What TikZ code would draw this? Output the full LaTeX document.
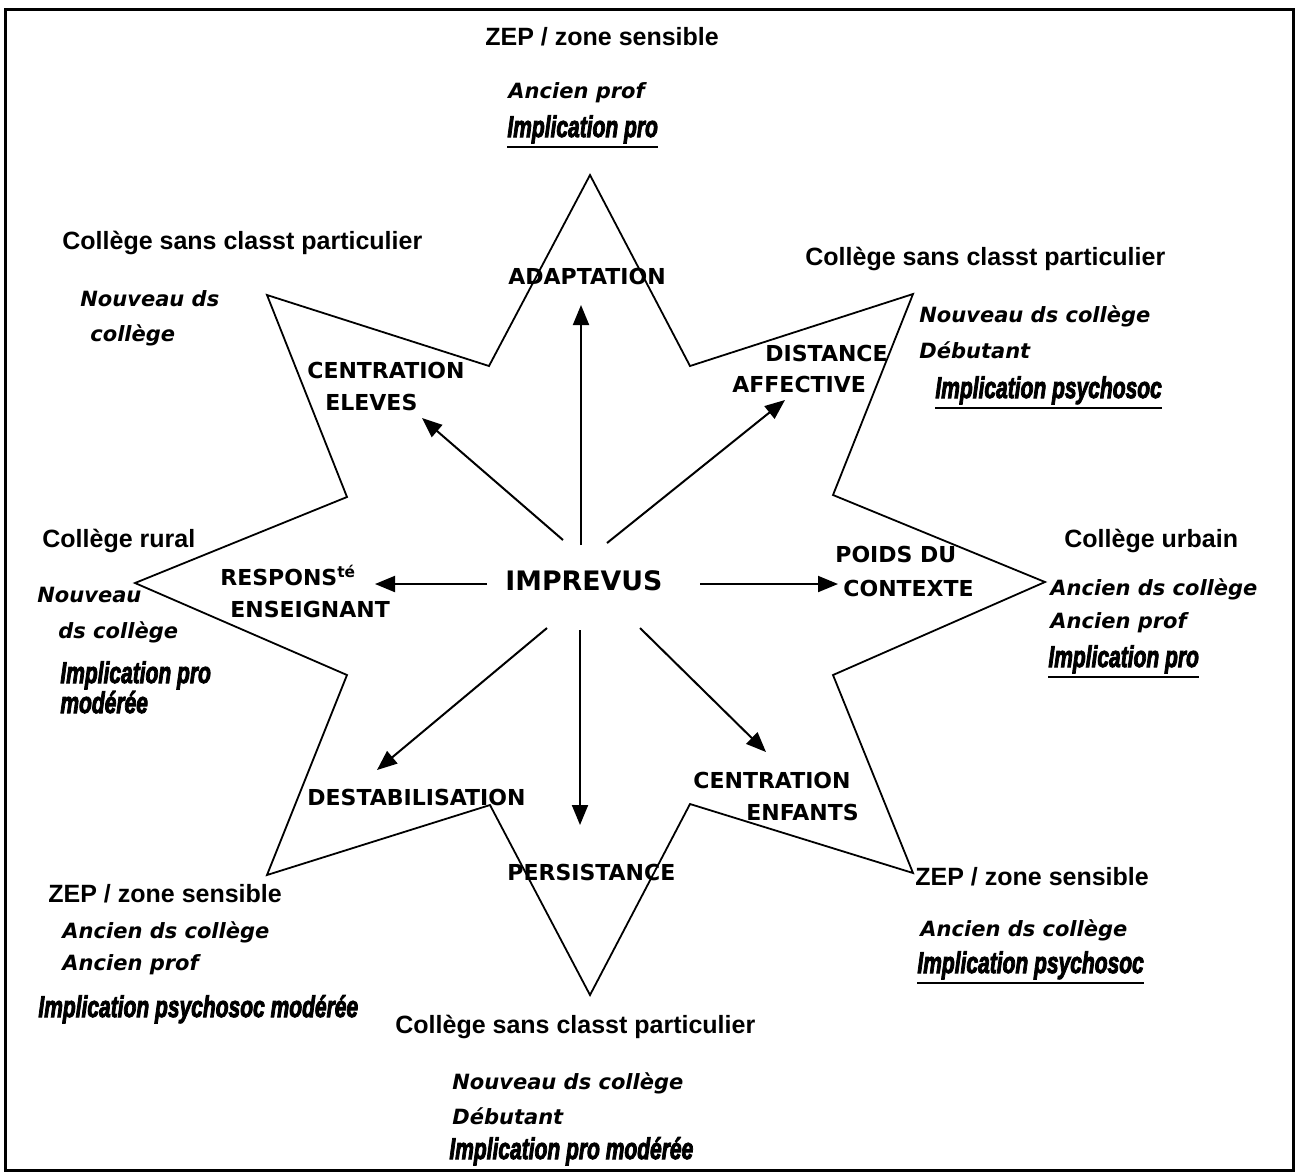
\documentclass[tikz,border=0pt]{standalone}
\usepackage{fontspec}
\setmainfont{Liberation Sans}
\newfontfamily\comicf{DejaVu Sans}
\newfontfamily\implf[FakeBold=3.5]{Liberation Sans}
\usetikzlibrary{arrows.meta}
\newcommand\impltxt[1]{\scalebox{0.7}[1]{\implf\fontsize{15}{17}\selectfont\bfseries\itshape #1}}
\newcommand\implul[1]{\scalebox{0.7}[1]{\implf\fontsize{15}{17}\selectfont\bfseries\itshape\vtop{\hbox{#1}\kern1.3pt\hrule height 1pt}}}
\tikzset{
  head/.style={anchor=base west, inner sep=0pt, font=\fontsize{12.5}{14}\selectfont\bfseries},
  itl/.style={anchor=base west, inner sep=0pt, font=\comicf\fontsize{10.5}{12}\selectfont\bfseries\itshape},
  imp/.style={anchor=base west, inner sep=0pt},
  lbl/.style={anchor=base west, inner sep=0pt, font=\comicf\fontsize{11}{13}\selectfont\bfseries},
  star/.style={line width=0.9pt, line join=miter},
  arr/.style={line width=1pt, -{Triangle[length=10pt,width=8pt]}},
  frame/.style={line width=1.5pt}
}
\begin{document}
\begin{tikzpicture}[x=0.5pt, y=-0.5pt]
\useasboundingbox (0,0) rectangle (1299,1175);
\draw[frame] (5,9) rectangle (1293,1170);

% star
\draw[star] (590,175) -- (690,366) -- (913,294) -- (833,495) -- (1045,582) -- (833,675) -- (913,873) -- (690,804) -- (590,995) -- (490,805) -- (267,875) -- (347,675) -- (135,583) -- (347,497) -- (267,295) -- (489,366) -- cycle;

% centre
\node[lbl, font=\comicf\fontsize{13.4}{15}\selectfont\bfseries] (imprevus) at (505,590) {IMPREVUS};

% labels
\node[lbl] (adapt) at (508,284) {ADAPTATION};
\node[lbl] (ce1) at (307,378) {CENTRATION};
\node[lbl] (ce2) at (325,410) {ELEVES};
\node[lbl] (da1) at (765,361) {DISTANCE};
\node[lbl] (da2) at (732,392) {AFFECTIVE};
\node[lbl] (re1) at (220,585) {RESPONS\textsuperscript{té}};
\node[lbl] (re2) at (230,617) {ENSEIGNANT};
\node[lbl] (po1) at (835,562) {POIDS DU};
\node[lbl] (po2) at (843,596) {CONTEXTE};
\node[lbl] (desta) at (307,805) {DESTABILISATION};
\node[lbl] (persi) at (507,880) {PERSISTANCE};
\node[lbl] (cn1) at (693,788) {CENTRATION};
\node[lbl] (cn2) at (746,820) {ENFANTS};

% arrows
\coordinate (uS) at (581,545); \coordinate (uE) at (581,305);
\coordinate (dS) at (580,630); \coordinate (dE) at (580,825);
\coordinate (lS) at (487,584); \coordinate (lE) at (375,584);
\coordinate (rS) at (700,584); \coordinate (rE) at (838,584);
\coordinate (ulS) at (563,540); \coordinate (ulE) at (422,418);
\coordinate (urS) at (607,543); \coordinate (urE) at (785,400);
\coordinate (llS) at (547,628); \coordinate (llE) at (377,770);
\coordinate (lrS) at (640,628); \coordinate (lrE) at (766,752);
\draw[arr] (uS) -- (uE);
\draw[arr] (dS) -- (dE);
\draw[arr] (lS) -- (lE);
\draw[arr] (rS) -- (rE);
\draw[arr] (ulS) -- (ulE);
\draw[arr] (urS) -- (urE);
\draw[arr] (llS) -- (llE);
\draw[arr] (lrS) -- (lrE);

% top group
\node[head] (t1) at (485,45) {ZEP / zone sensible};
\node[itl] (t2) at (508,98) {Ancien prof};
\node[imp] (t3) at (507,137) {\implul{Implication pro}};

% upper-left group
\node[head] (ul1) at (62,249) {Collège sans classt particulier};
\node[itl] (ul2) at (80,306) {Nouveau ds};
\node[itl] (ul3) at (90,341) {collège};

% upper-right group
\node[head] (ur1) at (805,265) {Collège sans classt particulier};
\node[itl] (ur2) at (919,322) {Nouveau ds collège};
\node[itl] (ur3) at (919,358) {Débutant};
\node[imp] (ur4) at (935,398) {\implul{Implication psychosoc}};

% left group
\node[head] (l1) at (42,547) {Collège rural};
\node[itl] (l2) at (37,602) {Nouveau};
\node[itl] (l3) at (58,638) {ds collège};
\node[imp] (l4) at (60,683) {\impltxt{Implication pro}};
\node[imp] (l5) at (60,713) {\impltxt{modérée}};

% right group
\node[head] (r1) at (1064,547) {Collège urbain};
\node[itl] (r2) at (1050,595) {Ancien ds collège};
\node[itl] (r3) at (1050,628) {Ancien prof};
\node[imp] (r4) at (1048,667) {\implul{Implication pro}};

% lower-left group
\node[head] (ll1) at (48,902) {ZEP / zone sensible};
\node[itl] (ll2) at (62,938) {Ancien ds collège};
\node[itl] (ll3) at (62,970) {Ancien prof};
\node[imp] (ll4) at (38,1017) {\impltxt{Implication psychosoc modérée}};

% bottom group
\node[head] (b1) at (395,1033) {Collège sans classt particulier};
\node[itl] (b2) at (452,1089) {Nouveau ds collège};
\node[itl] (b3) at (452,1124) {Débutant};
\node[imp] (b4) at (449,1159) {\impltxt{Implication pro modérée}};

% lower-right group
\node[head] (lr1) at (915,885) {ZEP / zone sensible};
\node[itl] (lr2) at (920,936) {Ancien ds collège};
\node[imp] (lr3) at (917,973) {\implul{Implication psychosoc}};
\end{tikzpicture}
\end{document}
